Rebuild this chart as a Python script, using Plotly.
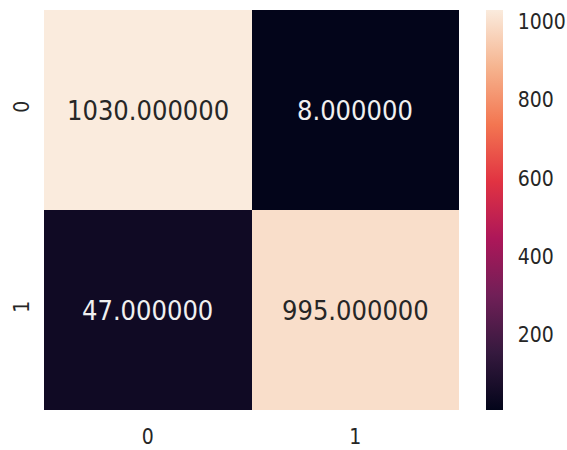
import plotly.graph_objects as go

# Confusion matrix counts (rows: true label, cols: predicted label)
row_labels = ["0", "1"]
col_labels = ["0", "1"]
counts_row0 = [1030, 8]
counts_row1 = [47, 995]
colorbar_ticks = [200, 400, 600, 800, 1000]

z = [counts_row0, counts_row1]
zmin = min(min(r) for r in z)
zmax = max(max(r) for r in z)

# seaborn "rocket" colormap
rocket = [
    [0.0, "#03051a"],
    [1 / 7, "#35193e"],
    [2 / 7, "#701f57"],
    [3 / 7, "#ad1759"],
    [4 / 7, "#e13342"],
    [5 / 7, "#f37651"],
    [6 / 7, "#f6b48f"],
    [1.0, "#faebdd"],
]

FONT = "DejaVu Sans Condensed, DejaVu Sans, sans-serif"
TEXT_DARK = "#262626"

fig = go.Figure(
    go.Heatmap(
        z=z,
        x=list(range(len(col_labels))),
        y=list(range(len(row_labels))),
        zmin=zmin,
        zmax=zmax,
        colorscale=rocket,
        hoverinfo="skip",
        colorbar=dict(
            x=1.065,
            xanchor="left",
            xpad=0,
            ypad=0,
            y=0.5,
            len=1,
            thickness=17,
            outlinewidth=0,
            tickvals=colorbar_ticks,
            ticks="outside",
            ticklen=11,
            tickcolor="rgba(0,0,0,0)",
            tickfont=dict(family=FONT, size=21, color=TEXT_DARK),
        ),
    )
)

# Cell annotations, light text on dark cells and dark text on light cells
mid = (zmin + zmax) / 2
for i, row in enumerate(z):
    for j, v in enumerate(row):
        fig.add_annotation(
            x=j,
            y=i,
            text=f"{v:.6f}",
            showarrow=False,
            font=dict(family=FONT, size=27, color=TEXT_DARK if v > mid else "#f0f0f0"),
        )

fig.update_layout(
    width=567,
    height=450,
    margin=dict(l=44, r=108, t=10, b=40, autoexpand=False),
    paper_bgcolor="white",
    plot_bgcolor="white",
    xaxis=dict(
        range=[-0.5, 1.5],
        tickvals=[0, 1],
        ticktext=col_labels,
        showgrid=False,
        zeroline=False,
        ticks="outside",
        ticklen=8,
        tickcolor="rgba(0,0,0,0)",
        tickfont=dict(family=FONT, size=21, color=TEXT_DARK),
    ),
    yaxis=dict(
        range=[1.5, -0.5],
        tickvals=[0, 1],
        ticktext=row_labels,
        tickangle=-90,
        showgrid=False,
        zeroline=False,
        ticks="outside",
        ticklen=6,
        tickcolor="rgba(0,0,0,0)",
        tickfont=dict(family=FONT, size=21, color=TEXT_DARK),
    ),
)

fig.write_html("out.html")
